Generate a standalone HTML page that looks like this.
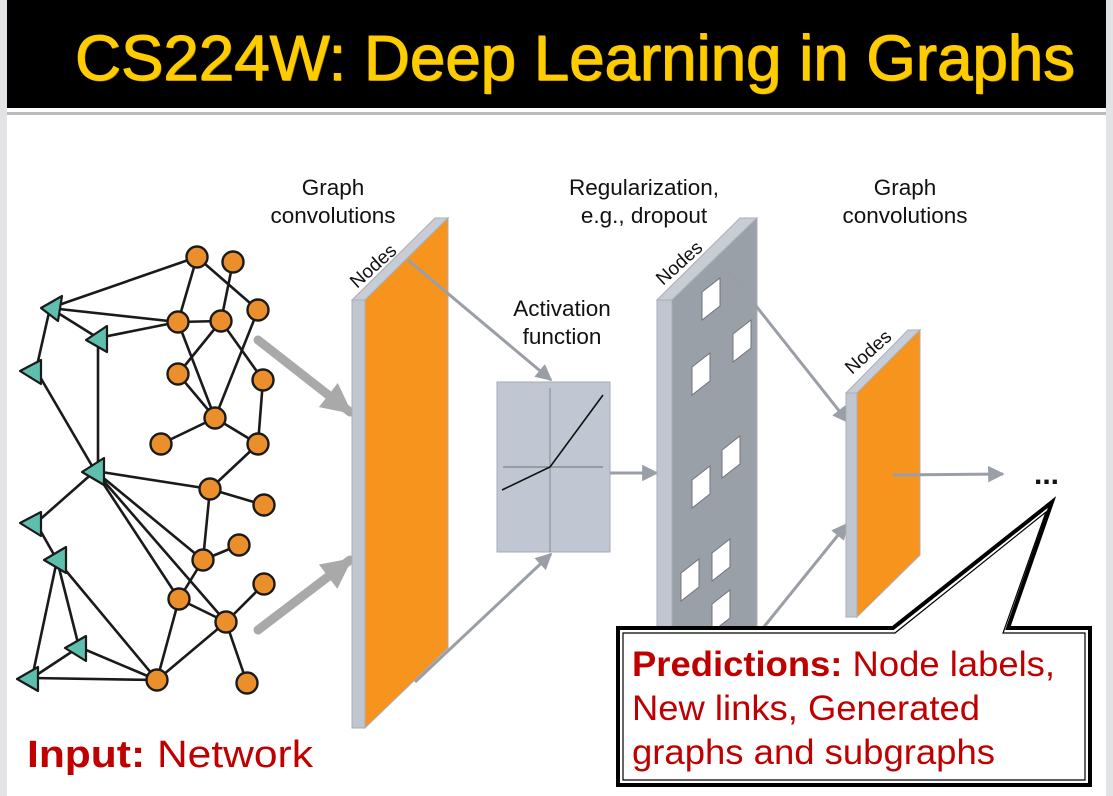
<!DOCTYPE html>
<html><head><meta charset="utf-8"><style>
html,body{margin:0;padding:0;background:#fff}
svg{display:block}
</style></head><body>
<svg width="1113" height="796" viewBox="0 0 1113 796" xmlns="http://www.w3.org/2000/svg" font-family="Liberation Sans, Arial, sans-serif">
<defs>
<marker id="ah" viewBox="0 0 10 10" refX="9" refY="5" markerWidth="6.5" markerHeight="5.5" orient="auto" markerUnits="strokeWidth">
<path d="M0,0 L10,5 L0,10 z" fill="#9a9ea6"/></marker>
<marker id="ah2" viewBox="0 0 10 10" refX="9" refY="5" markerWidth="3.4" markerHeight="3.4" orient="auto" markerUnits="strokeWidth">
<path d="M0,0 L10,5 L0,10 z" fill="#a9a9a9"/></marker>
</defs>
<rect x="0" y="0" width="1113" height="796" fill="#fff"/>
<rect x="0" y="0" width="7" height="796" fill="#e2e3e5"/>
<rect x="1106" y="0" width="7" height="796" fill="#e2e3e5"/>
<rect x="7" y="0" width="1099" height="108" fill="#000"/>
<rect x="7" y="112" width="1099" height="3" fill="#bbb"/>
<text x="76" y="81" font-size="64" fill="#8a6a00" textLength="1000" lengthAdjust="spacingAndGlyphs">CS224W: Deep Learning in Graphs</text>
<text x="75" y="80" font-size="64" fill="#ffcc00" stroke="#ffcc00" stroke-width="1" textLength="1000" lengthAdjust="spacingAndGlyphs">CS224W: Deep Learning in Graphs</text>

<g stroke="#1a1a1a" stroke-width="2.6" fill="none">
<line x1="197" y1="257" x2="50" y2="308"/>
<line x1="197" y1="257" x2="178" y2="322"/>
<line x1="197" y1="257" x2="258" y2="310"/>
<line x1="233" y1="262" x2="221" y2="321"/>
<line x1="50" y1="308" x2="178" y2="322"/>
<line x1="50" y1="308" x2="98" y2="338"/>
<line x1="50" y1="308" x2="36" y2="370"/>
<line x1="98" y1="338" x2="178" y2="322"/>
<line x1="98" y1="338" x2="98" y2="471"/>
<line x1="36" y1="370" x2="95" y2="471"/>
<line x1="178" y1="322" x2="221" y2="321"/>
<line x1="178" y1="322" x2="215" y2="418"/>
<line x1="221" y1="321" x2="178" y2="374"/>
<line x1="221" y1="321" x2="263" y2="380"/>
<line x1="258" y1="310" x2="215" y2="418"/>
<line x1="178" y1="374" x2="215" y2="418"/>
<line x1="263" y1="380" x2="258" y2="444"/>
<line x1="215" y1="418" x2="161" y2="444"/>
<line x1="215" y1="418" x2="258" y2="444"/>
<line x1="258" y1="444" x2="210" y2="489"/>
<line x1="95" y1="471" x2="210" y2="489"/>
<line x1="210" y1="489" x2="264" y2="505"/>
<line x1="210" y1="489" x2="203" y2="560"/>
<line x1="95" y1="471" x2="36" y2="523"/>
<line x1="95" y1="471" x2="203" y2="560"/>
<line x1="95" y1="471" x2="179" y2="599"/>
<line x1="95" y1="471" x2="226" y2="622"/>
<line x1="203" y1="560" x2="239" y2="545"/>
<line x1="203" y1="560" x2="179" y2="599"/>
<line x1="179" y1="599" x2="226" y2="622"/>
<line x1="264" y1="584" x2="226" y2="622"/>
<line x1="226" y1="622" x2="247" y2="683"/>
<line x1="226" y1="622" x2="157" y2="680"/>
<line x1="179" y1="599" x2="157" y2="680"/>
<line x1="36" y1="523" x2="57" y2="560"/>
<line x1="57" y1="560" x2="32" y2="678"/>
<line x1="57" y1="560" x2="79" y2="647"/>
<line x1="57" y1="560" x2="157" y2="680"/>
<line x1="79" y1="647" x2="32" y2="678"/>
<line x1="79" y1="647" x2="157" y2="680"/>
<line x1="32" y1="678" x2="157" y2="680"/>
</g>
<g fill="#5fbfae" stroke="#1a1a1a" stroke-width="2.2" stroke-linejoin="round">
<polygon points="41,308 62,296 58,321"/>
<polygon points="86,340 107,326 107,352"/>
<polygon points="20,371 41,360 41,384"/>
<polygon points="82,472 104,458 104,485"/>
<polygon points="20,523 41,512 41,536"/>
<polygon points="44,560 66,547 66,573"/>
<polygon points="65,648 86,636 86,661"/>
<polygon points="17,679 38,667 38,691"/>
</g>
<g fill="#eb8f2d" stroke="#1a1a1a" stroke-width="2.4">
<circle cx="197" cy="257" r="10.5"/><circle cx="233" cy="262" r="10.5"/>
<circle cx="258" cy="310" r="10.5"/><circle cx="178" cy="322" r="10.5"/>
<circle cx="221" cy="321" r="10.5"/><circle cx="178" cy="374" r="10.5"/>
<circle cx="263" cy="380" r="10.5"/><circle cx="215" cy="418" r="10.5"/>
<circle cx="161" cy="444" r="10.5"/><circle cx="258" cy="444" r="10.5"/>
<circle cx="210" cy="489" r="10.5"/><circle cx="264" cy="505" r="10.5"/>
<circle cx="239" cy="545" r="10.5"/><circle cx="203" cy="560" r="10.5"/>
<circle cx="264" cy="584" r="10.5"/><circle cx="179" cy="599" r="10.5"/>
<circle cx="226" cy="622" r="10.5"/><circle cx="157" cy="680" r="10.5"/>
<circle cx="247" cy="683" r="10.5"/>
</g>
<line x1="258" y1="340" x2="350" y2="412" stroke="#a9a9a9" stroke-width="9" stroke-linecap="round" marker-end="url(#ah2)"/>
<line x1="258" y1="630" x2="350" y2="560" stroke="#a9a9a9" stroke-width="9" stroke-linecap="round" marker-end="url(#ah2)"/>

<g font-size="22.5" fill="#111" text-anchor="middle">
<text x="333" y="195">Graph</text><text x="333" y="223">convolutions</text>
<text x="644" y="195">Regularization,</text><text x="644" y="223">e.g., dropout</text>
<text x="562" y="316">Activation</text><text x="562" y="344">function</text>
<text x="905" y="195">Graph</text><text x="905" y="223">convolutions</text>
</g>

<polygon points="352,300 435,218 448,218 365,300" fill="#c7ccd5" stroke="#a9aeb6" stroke-width="1"/>
<polygon points="365,300 448,218 448,648 365,728" fill="#f7941d" stroke="#a9aeb6" stroke-width="1"/>
<rect x="352" y="300" width="13" height="428" fill="#bfc6d0" stroke="#a9aeb6" stroke-width="1"/>
<text x="0" y="0" font-size="19" fill="#111" transform="translate(357,289) rotate(-42)">Nodes</text>

<rect x="497" y="382" width="113" height="170" fill="#c0c7d2" stroke="#a5abb4" stroke-width="1"/>
<line x1="550" y1="388" x2="550" y2="552" stroke="#858a93" stroke-width="1"/>
<line x1="503" y1="467" x2="603" y2="467" stroke="#6d7178" stroke-width="1"/>
<polyline points="502,490 550,467 603,395" fill="none" stroke="#111" stroke-width="1.6"/>
<line x1="408" y1="260" x2="551" y2="380" stroke="#9a9ea6" stroke-width="3" marker-end="url(#ah)"/>
<line x1="415" y1="682" x2="551" y2="554" stroke="#9a9ea6" stroke-width="3" marker-end="url(#ah)"/>
<line x1="610" y1="473" x2="657" y2="473" stroke="#9a9ea6" stroke-width="3" marker-end="url(#ah)"/>

<polygon points="657,300 740,218 757,218 672,300" fill="#c7ccd5" stroke="#a9aeb6" stroke-width="1"/>
<polygon points="672,300 757,218 757,640 672,640" fill="#9aa0a8" stroke="#a9aeb6" stroke-width="1"/>
<rect x="657" y="300" width="15" height="340" fill="#bfc6d0" stroke="#a9aeb6" stroke-width="1"/>
<text x="0" y="0" font-size="19" fill="#111" transform="translate(663,286) rotate(-42)">Nodes</text>
<g fill="#fff" stroke="#6f747b" stroke-width="1">
<polygon points="702,292 720,278 720,306 702,320"/>
<polygon points="733,334 751,320 751,348 733,362"/>
<polygon points="692,367 710,353 710,381 692,395"/>
<polygon points="722,450 740,436 740,464 722,478"/>
<polygon points="692,480 710,466 710,494 692,508"/>
<polygon points="712,553 730,539 730,567 712,581"/>
<polygon points="681,573 699,559 699,587 681,601"/>
<polygon points="712,604 730,590 730,618 712,632"/>
</g>
<line x1="718" y1="258" x2="848" y2="422" stroke="#9a9ea6" stroke-width="3" marker-end="url(#ah)"/>
<line x1="763" y1="628" x2="847" y2="524" stroke="#9a9ea6" stroke-width="3" marker-end="url(#ah)"/>

<polygon points="846,393 908,330 920,330 857,393" fill="#c7ccd5" stroke="#a9aeb6" stroke-width="1"/>
<polygon points="857,393 920,330 920,555 857,617" fill="#f7941d" stroke="#a9aeb6" stroke-width="1"/>
<rect x="846" y="393" width="11" height="224" fill="#bfc6d0" stroke="#a9aeb6" stroke-width="1"/>
<text x="0" y="0" font-size="19" fill="#111" transform="translate(852,375) rotate(-42)">Nodes</text>
<line x1="893" y1="475" x2="1003" y2="474" stroke="#9a9ea6" stroke-width="3" marker-end="url(#ah)"/>
<text x="1034" y="484" font-size="30" font-weight="bold" fill="#111">...</text>

<path d="M618,628 L893,628 L1052,502 L1008,628 L1090,628 L1090,785 L618,785 Z" fill="#fff" stroke="#000" stroke-width="4"/>
<path d="M623,633 L895,633 L1046,512 L1003,633 L1085,633 L1085,780 L623,780 Z" fill="none" stroke="#000" stroke-width="1.2"/>
<g font-size="35" fill="#c00000">
<text x="632" y="676" textLength="423" lengthAdjust="spacingAndGlyphs"><tspan font-weight="bold">Predictions:</tspan> Node labels,</text>
<text x="632" y="720" textLength="348" lengthAdjust="spacingAndGlyphs">New links, Generated</text>
<text x="632" y="764" textLength="363" lengthAdjust="spacingAndGlyphs">graphs and subgraphs</text>
</g>

<text x="27" y="767" font-size="38" fill="#c00000" textLength="286" lengthAdjust="spacingAndGlyphs"><tspan font-weight="bold">Input:</tspan> Network</text>
</svg>
</body></html>
